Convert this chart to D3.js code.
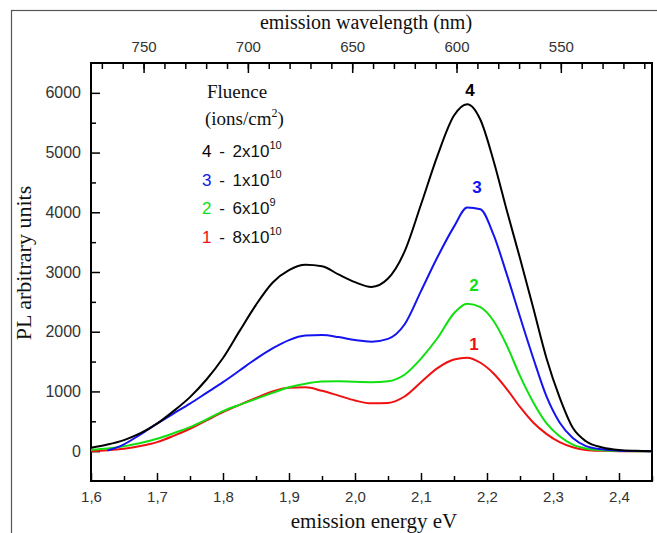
<!DOCTYPE html>
<html lang="en">
    <head>
        <meta charset="utf-8">
        <title>PL spectra</title>
        <script src="https://d3js.org/d3.v7.min.js"></script>
        <style>
            body { margin: 0; background: #fff; }
            .tick text { font-family: "Liberation Sans", Arial, sans-serif; fill: #333; }
            .serif { font-family: "Liberation Serif", "Times New Roman", serif; fill: #111; }
            .sans { font-family: "Liberation Sans", Arial, sans-serif; }
        </style>
    </head>
    <body>
        <script type="text/javascript">
            // emission energy grid (eV)
            var energy = [1.60, 1.625, 1.65, 1.675, 1.70, 1.725, 1.75, 1.775, 1.80, 1.825,
                          1.85, 1.875, 1.90, 1.925, 1.95, 1.975, 2.00, 2.025, 2.05, 2.075,
                          2.10, 2.125, 2.15, 2.17, 2.19, 2.21, 2.23, 2.25, 2.27, 2.29,
                          2.31, 2.33, 2.35, 2.375, 2.40, 2.425, 2.45];

            // PL intensity, one array per fluence
            var pl4 = [57, 110, 185, 300, 460, 670, 905, 1200, 1560, 2010,
                       2450, 2820, 3030, 3120, 3095, 2960, 2830, 2750, 2890, 3340,
                       4130, 4950, 5620, 5810, 5550, 4860, 4030, 3230, 2400, 1560,
                       900, 390, 165, 60, 18, 5, 0];
            var pl3 = [null, 10, 115, 280, 460, 630, 795, 975, 1155, 1350,
                       1545, 1720, 1860, 1935, 1945, 1910, 1860, 1833, 1880, 2120,
                       2680, 3250, 3760, 4080, 4050, 3620, 2960, 2250, 1560, 920,
                       480, 220, 85, 30, 8, 2, 0];
            var pl2 = [23, 45, 80, 135, 207, 300, 402, 530, 670, 775,
                       875, 975, 1070, 1130, 1165, 1170, 1160, 1155, 1170, 1280,
                       1550, 1895, 2310, 2470, 2410, 2180, 1770, 1260, 820, 470,
                       250, 110, 45, 15, 5, 0, 0];
            var pl1 = [0, 15, 40, 85, 151, 255, 375, 515, 654, 775,
                       890, 1000, 1060, 1068, 1010, 930, 848, 800, 808, 915,
                       1155, 1390, 1535, 1565, 1480, 1300, 1040, 740, 480, 290,
                       150, 65, 20, 5, 0, 0, 0];

            var seriesNames = ["4", "3", "2", "1"];
            var seriesColors = ["#000000", "#1414f0", "#10e010", "#f01010"];
            var legendDoses = [["2x10", "10"], ["1x10", "10"], ["6x10", "9"], ["8x10", "10"]];

            var yTicks = [0, 1000, 2000, 3000, 4000, 5000, 6000];
            var xTicks = [1.6, 1.7, 1.8, 1.9, 2.0, 2.1, 2.2, 2.3, 2.4];
            var wlTicks = [750, 700, 650, 600, 550];

            var width = 657, height = 533;
            var plotLeft = 91, plotRight = 652, plotTop = 63, plotBottom = 481;

            var svg = d3.select("body").append("svg")
                .attr("width", width)
                .attr("height", height);

            // outer frame
            svg.append("rect")
                .attr("x", 11.5).attr("y", 10.5)
                .attr("width", 700).attr("height", 600)
                .attr("fill", "none")
                .attr("stroke", "#555")
                .attr("stroke-width", 1.2);

            var x = d3.scaleLinear().domain([1.6, 2.45]).range([plotLeft, plotRight]);
            var y = d3.scaleLinear().domain([-500, 6500]).range([plotBottom, plotTop]);
            var wl = d3.scaleLinear().domain([775.2, 506.3]).range([plotLeft, plotRight]);

            // major + minor ticks
            var gx = svg.append("g").attr("transform", "translate(0," + plotBottom + ")");
            gx.call(d3.axisBottom(x).tickValues(xTicks).tickSize(-8).tickSizeOuter(0).tickPadding(10)
                .tickFormat(function(d) { return d3.format(".1f")(d).replace(".", ","); }));
            gx.append("g").call(d3.axisBottom(x).tickValues(d3.range(1.65, 2.45, 0.1)).tickSize(-5).tickSizeOuter(0).tickFormat(""));

            var gy = svg.append("g").attr("transform", "translate(" + plotLeft + ",0)");
            gy.call(d3.axisLeft(y).tickValues(yTicks).tickSize(-9).tickSizeOuter(0).tickPadding(10)
                .tickFormat(d3.format("d")));
            gy.append("g").call(d3.axisLeft(y).tickValues(d3.range(500, 6000, 1000)).tickSize(-5).tickSizeOuter(0).tickFormat(""));

            var gt = svg.append("g").attr("transform", "translate(0," + plotTop + ")");
            gt.call(d3.axisTop(wl).tickValues(wlTicks).tickSize(-10).tickSizeOuter(0).tickPadding(11));
            gt.append("g").call(d3.axisTop(wl).tickValues(d3.range(770, 505, -10)).tickSize(-6).tickSizeOuter(0).tickFormat(""));

            svg.selectAll(".domain").remove();
            svg.selectAll(".tick line").attr("stroke", "#000").attr("stroke-width", 1.5);
            gx.selectAll(".tick text").style("font-size", "15px");
            gy.selectAll(".tick text").style("font-size", "16px");
            gt.selectAll(".tick text").style("font-size", "15px");

            // plot box
            svg.append("rect")
                .attr("x", plotLeft).attr("y", plotTop)
                .attr("width", plotRight - plotLeft).attr("height", plotBottom - plotTop)
                .attr("fill", "none")
                .attr("stroke", "#000")
                .attr("stroke-width", 2);

            // curves
            var series = [pl4, pl3, pl2, pl1];
            var line = d3.line()
                .defined(function(d) { return d[1] != null; })
                .x(function(d) { return x(d[0]); })
                .y(function(d) { return y(d[1]); })
                .curve(d3.curveMonotoneX);

            svg.append("g").selectAll("path.curve")
                .data(series.slice().reverse())
                .join("path")
                .attr("class", "curve")
                .attr("d", function(s) { return line(energy.map(function(e, i) { return [e, s[i]]; })); })
                .attr("fill", "none")
                .attr("stroke", function(s, i) { return seriesColors[3 - i]; })
                .attr("stroke-width", 2);

            // peak labels
            var peakLabelPos = [[470, 96], [477, 193], [474, 291], [474, 350]];
            svg.selectAll("text.peak")
                .data(seriesNames)
                .join("text")
                .attr("class", "peak sans")
                .attr("x", function(d, i) { return peakLabelPos[i][0]; })
                .attr("y", function(d, i) { return peakLabelPos[i][1]; })
                .attr("text-anchor", "middle")
                .style("font-size", "17px")
                .style("font-weight", "bold")
                .attr("fill", function(d, i) { return seriesColors[i]; })
                .text(function(d) { return d; });

            // legend
            svg.append("text").attr("class", "serif")
                .attr("x", 207).attr("y", 98)
                .style("font-size", "19px")
                .text("Fluence");
            var units = svg.append("text").attr("class", "serif")
                .attr("x", 205).attr("y", 125)
                .style("font-size", "19px");
            units.append("tspan").text("(ions/cm");
            units.append("tspan").attr("dy", -8).style("font-size", "12px").text("2");
            units.append("tspan").attr("dy", 8).text(")");

            legendDoses.forEach(function(d, i) {
                var t = svg.append("text").attr("class", "sans")
                    .attr("x", 202).attr("y", 157 + i * 28.6)
                    .style("font-size", "17px")
                    .style("word-spacing", "3px");
                t.append("tspan").attr("fill", seriesColors[i]).text(seriesNames[i]);
                t.append("tspan").attr("fill", "#111").text(" - " + d[0]);
                t.append("tspan").attr("fill", "#111").attr("dy", -8).style("font-size", "11px").text(d[1]);
            });

            // axis titles
            svg.append("text").attr("class", "serif")
                .attr("x", 366).attr("y", 29)
                .attr("text-anchor", "middle")
                .style("font-size", "20px")
                .text("emission wavelength (nm)");
            svg.append("text").attr("class", "serif")
                .attr("x", 374).attr("y", 528)
                .attr("text-anchor", "middle")
                .style("font-size", "21px")
                .text("emission energy eV");
            svg.append("text").attr("class", "serif")
                .attr("transform", "translate(31,263) rotate(-90)")
                .attr("text-anchor", "middle")
                .style("font-size", "22px")
                .text("PL arbitrary units");
        </script>
    </body>
</html>
